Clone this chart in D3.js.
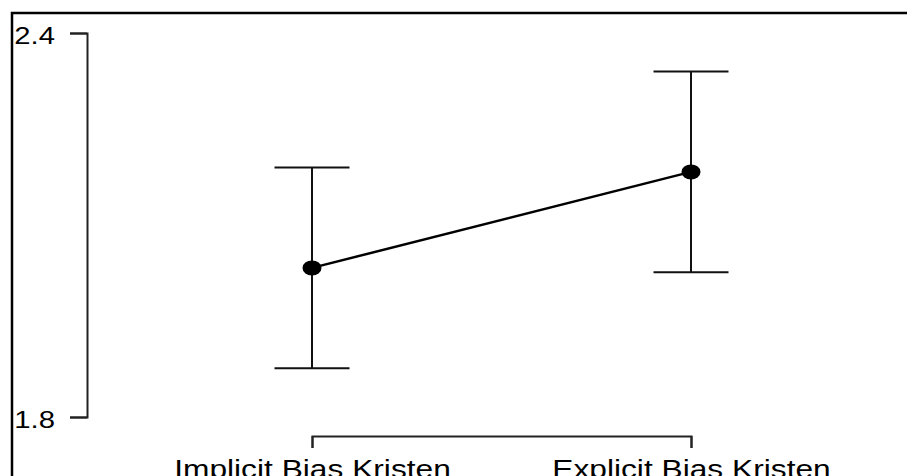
<!DOCTYPE html>
<html>
<head>
<meta charset="utf-8">
<script src="https://cdn.jsdelivr.net/npm/d3@7"></script>
<style>
  html, body { margin: 0; padding: 0; background: #fff; }
  svg { display: block; }
  text { font-family: "Liberation Sans", Arial, sans-serif; fill: #000; }
</style>
</head>
<body>
<svg id="chart" width="907" height="476"></svg>
<script>
// Conditions, means and error-bar half-widths
const categories = ["Implicit Bias Kristen", "Explicit Bias Kristen"];
const means = [2.033, 2.183];
const errors = [0.157, 0.157];
const yTicks = [1.8, 2.4];
const yTickLabels = ["1.8", "2.4"];

const W = 907, H = 476;
const stretch = 1.22; // horizontal text stretch

const svg = d3.select("#chart");

const x = d3.scalePoint().domain(categories).range([312, 691]);
const y = d3.scaleLinear().domain([1.8, 2.4]).range([417, 33]);

// Outer frame (top and left edges)
svg.append("path")
  .attr("d", `M12,${H + 2}V13H${W + 2}`)
  .attr("fill", "none")
  .attr("stroke", "#000")
  .attr("stroke-width", 2.5);

// Y axis
const yAxis = svg.append("g")
  .attr("transform", "translate(87,0)")
  .call(d3.axisLeft(y).tickValues(yTicks).tickSize(17).tickSizeOuter(17)
    .tickFormat((d, i) => yTickLabels[i]));
yAxis.selectAll("path, line").attr("stroke", "#222").attr("stroke-width", 2);
yAxis.selectAll("text")
  .attr("x", 0).attr("dy", null)
  .attr("dominant-baseline", "central")
  .attr("font-size", 24)
  .attr("text-anchor", "end")
  .attr("transform", `translate(-32,2) scale(${stretch},1)`);

// X axis bracket
const xAxis = svg.append("g")
  .attr("transform", "translate(0,436)")
  .call(d3.axisBottom(x).tickSize(12).tickSizeOuter(12));
xAxis.selectAll("path, line").attr("stroke", "#222").attr("stroke-width", 2);
xAxis.selectAll("text")
  .attr("y", 0).attr("dy", null)
  .attr("font-size", 26)
  .attr("text-anchor", "middle")
  .attr("transform", `translate(0,42) scale(${stretch},1)`);

// Error bars
const cap = 37.5;
const bars = svg.append("g").selectAll("g")
  .data(categories.map((c, i) => ({ c, m: means[i], e: errors[i] })))
  .join("g");
bars.append("line")
  .attr("x1", d => x(d.c)).attr("x2", d => x(d.c))
  .attr("y1", d => y(d.m + d.e)).attr("y2", d => y(d.m - d.e))
  .attr("stroke", "#111").attr("stroke-width", 2);
bars.append("line")
  .attr("x1", d => x(d.c) - cap).attr("x2", d => x(d.c) + cap)
  .attr("y1", d => y(d.m + d.e)).attr("y2", d => y(d.m + d.e))
  .attr("stroke", "#111").attr("stroke-width", 2);
bars.append("line")
  .attr("x1", d => x(d.c) - cap).attr("x2", d => x(d.c) + cap)
  .attr("y1", d => y(d.m - d.e)).attr("y2", d => y(d.m - d.e))
  .attr("stroke", "#111").attr("stroke-width", 2);

// Connecting line between means
svg.append("path")
  .datum(categories.map((c, i) => [x(c), y(means[i])]))
  .attr("d", d3.line())
  .attr("fill", "none")
  .attr("stroke", "#000")
  .attr("stroke-width", 2.5);

// Mean markers
svg.append("g").selectAll("ellipse")
  .data(categories.map((c, i) => ({ c, m: means[i] })))
  .join("ellipse")
  .attr("cx", d => x(d.c))
  .attr("cy", d => y(d.m))
  .attr("rx", 9.5)
  .attr("ry", 7.5)
  .attr("fill", "#000");
</script>
</body>
</html>
